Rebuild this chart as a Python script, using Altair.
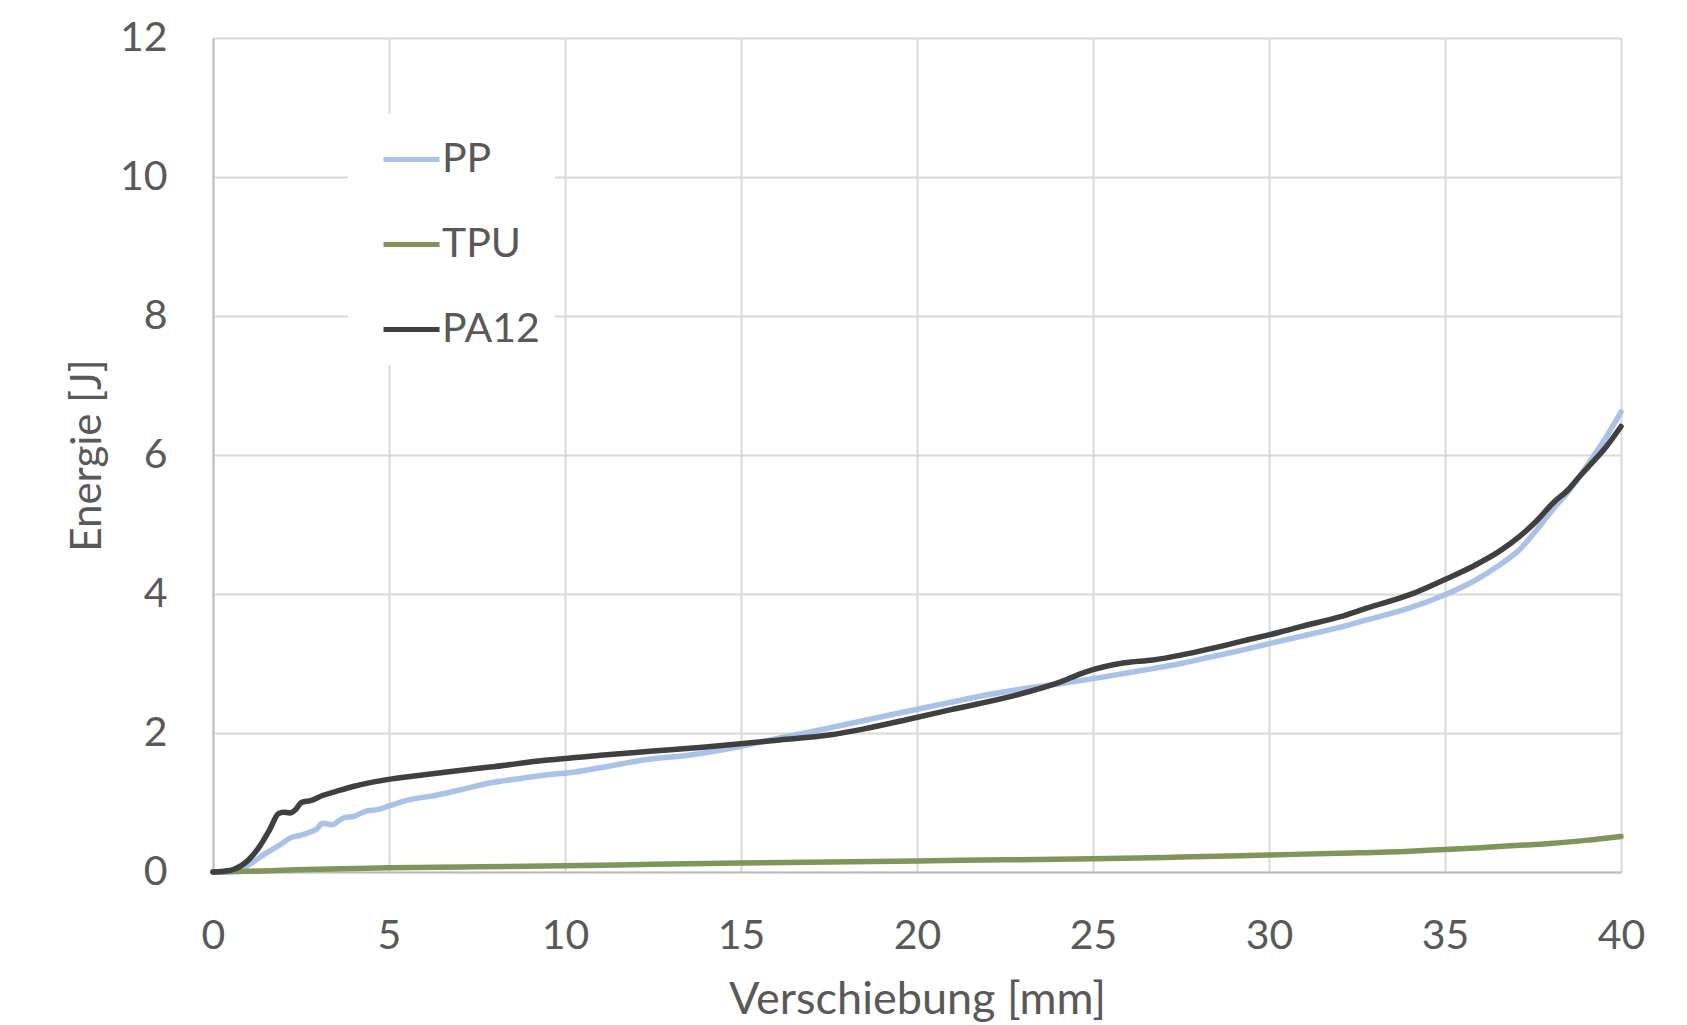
import altair as alt
import pandas as pd

# ---- data ----
pa12_x = [0, 0.3, 0.6, 1.0, 1.3, 1.6, 1.86, 2.0, 2.18, 2.35, 2.51, 2.8, 3.11, 3.5, 3.98, 4.5,
          5.08, 6, 7, 7.87, 9.5, 11, 12.5, 14, 16.1, 17.5, 18.5, 19.7, 21, 22.7, 24.0, 24.8,
          25.9, 26.7, 27.5, 28.4, 29.3, 30.3, 30.9, 32, 32.8, 34, 35, 35.8, 36.56, 37.12,
          37.6, 38.07, 38.5, 38.82, 39.2, 39.58, 40]
pa12_y = [0, 0.01, 0.04, 0.17, 0.35, 0.6, 0.84, 0.86, 0.85, 0.9, 1.0, 1.03, 1.1, 1.16, 1.23, 1.29,
          1.34, 1.40, 1.46, 1.51, 1.61, 1.68, 1.74, 1.80, 1.90, 1.97, 2.06, 2.19, 2.34, 2.53, 2.72, 2.88,
          3.01, 3.05, 3.12, 3.22, 3.33, 3.45, 3.53, 3.67, 3.80, 3.99, 4.21, 4.40, 4.62, 4.83,
          5.05, 5.31, 5.50, 5.69, 5.90, 6.12, 6.41]

pp_x = [0, 0.4, 0.7, 1.1, 1.47, 1.9, 2.24, 2.5, 2.78, 2.95, 3.11, 3.38, 3.71, 4.0, 4.31, 4.7,
        5.0, 5.5, 6.3, 7.26, 7.86, 8.79, 9.5, 10.3, 11, 12.33, 13.5, 15, 16.1, 17.3, 18.5, 19.7,
        20.85, 22, 23.2, 24.2, 25.1, 26.5, 27.5, 28.4, 29.3, 30.3, 30.9, 32, 32.8, 34, 35, 35.8,
        36.56, 37.12, 37.6, 38.07, 38.5, 38.82, 39.2, 39.58, 40]
pp_y = [0, 0, 0.02, 0.13, 0.26, 0.39, 0.50, 0.53, 0.58, 0.62, 0.70, 0.68, 0.78, 0.80, 0.87, 0.90,
        0.95, 1.03, 1.10, 1.21, 1.28, 1.35, 1.40, 1.44, 1.50, 1.62, 1.68, 1.81, 1.93, 2.05, 2.18, 2.31,
        2.43, 2.55, 2.65, 2.72, 2.79, 2.91, 3.00, 3.10, 3.20, 3.32, 3.39, 3.52, 3.63, 3.80, 3.99, 4.18,
        4.42, 4.64, 4.92, 5.22, 5.47, 5.69, 5.97, 6.26, 6.62]

tpu_x = [0, 1, 2, 3, 5, 7.5, 10, 12.5, 15, 17.5, 20, 22.5, 25, 27.5, 30, 32, 34, 35, 36, 37, 38, 39, 40]
tpu_y = [0, 0.01, 0.025, 0.04, 0.06, 0.075, 0.09, 0.11, 0.13, 0.145, 0.16, 0.175, 0.19, 0.215,
         0.245, 0.27, 0.30, 0.325, 0.35, 0.38, 0.41, 0.455, 0.51]

series_names = ["PP", "TPU", "PA12"]
series_colors = ["#aac2e8", "#7f965a", "#404040"]

rows = []
for name, xs, ys in [("PP", pp_x, pp_y), ("TPU", tpu_x, tpu_y), ("PA12", pa12_x, pa12_y)]:
    for i, (a, b) in enumerate(zip(xs, ys)):
        rows.append({"Serie": name, "x": a, "y": b, "i": i})
df = pd.DataFrame(rows)

FONT = "Lato"
TXT = "#595959"

chart = alt.Chart(df).mark_line(strokeWidth=5.5, strokeCap="round", strokeJoin="round",
                                interpolate="monotone").encode(
    x=alt.X("x:Q", scale=alt.Scale(domain=[0, 40], nice=False),
            axis=alt.Axis(title="Verschiebung [mm]", values=[0, 5, 10, 15, 20, 25, 30, 35, 40],
                          labelPadding=44, labelFlush=False, titleFontSize=45,
                          titleBaseline="alphabetic", titleY=141)),
    y=alt.Y("y:Q", scale=alt.Scale(domain=[0, 12], nice=False),
            axis=alt.Axis(title="Energie [J]", values=[0, 2, 4, 6, 8, 10, 12],
                          labelPadding=46, labelFlush=False, titleFontSize=42,
                          titleBaseline="alphabetic", titleX=-113)),
    color=alt.Color("Serie:N", scale=alt.Scale(domain=series_names, range=series_colors),
                    sort=series_names,
                    legend=alt.Legend(title=None, orient="none", legendX=135, legendY=76)),
    order=alt.Order("i:Q"),
).properties(
    width=1408, height=834,
    autosize=alt.AutoSizeParams(type="none"),
    padding={"left": 205, "top": 30, "right": 50, "bottom": 150},
).configure_view(strokeWidth=0).configure_axis(
    grid=True, gridColor="#d9d9d9", gridWidth=2,
    domainColor="#bfbfbf", domainWidth=2, ticks=False,
    labelFont=FONT, labelFontSize=41, labelColor=TXT,
    titleFont=FONT, titleColor=TXT, titleFontWeight="normal",
).configure_legend(
    fillColor="white", padding=15, symbolType="stroke", symbolSize=3136,
    symbolStrokeWidth=5, labelFont=FONT, labelFontSize=41, labelColor=TXT,
    rowPadding=34, symbolOffset=18, labelOffset=0,
)

chart.save("out.html", embed_options={"renderer": "svg", "actions": False})
